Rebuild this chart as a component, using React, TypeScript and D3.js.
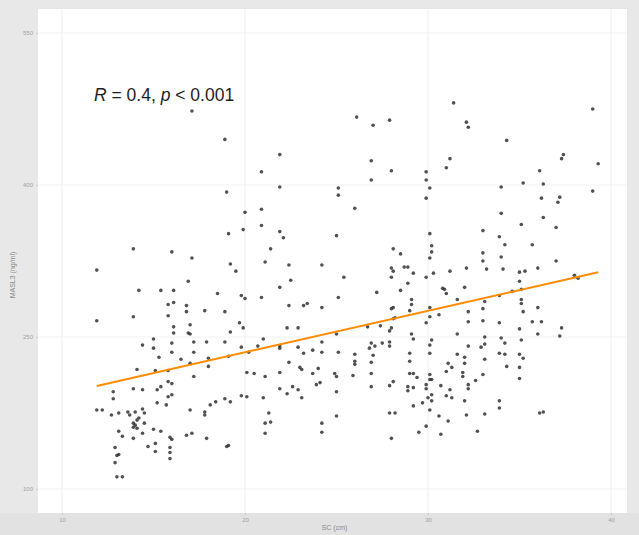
import React, { useRef, useEffect } from "react";
import * as d3 from "d3";

// tick values (labels are tiny in the source, best guess)
const xTicks = [10, 20, 30, 40];
const yTicks = [100, 250, 400, 550];

// SC (cm)
const scValues = [
  13.9, 16.0, 17.1, 11.9, 19.2, 19.5, 21.4, 21.1, 16.9, 14.2, 15.4, 16.1, 18.5, 19.8, 20.0, 20.9, 15.8, 16.1, 16.8, 16.8,
  17.8, 18.9, 11.9, 13.9, 15.8, 16.1, 16.1, 17.0, 19.7, 19.9, 16.9, 17.0, 19.2, 15.0, 14.4, 15.0, 16.0, 17.2, 17.9, 18.9,
  21.0, 16.0, 17.2, 15.3, 16.5, 18.0, 19.1, 19.8, 20.7, 21.9, 20.2, 17.0, 18.0, 14.1, 15.1, 15.8, 17.2, 20.1, 20.5, 21.1,
  15.8, 16.0, 13.9, 14.4, 12.8, 15.4, 15.2, 16.0, 15.8, 12.8, 15.2, 15.7, 18.1, 18.4, 18.9, 19.2, 19.8, 20.1, 21.0, 11.9,
  12.2, 12.7, 13.1, 13.6, 13.7, 14.0, 14.4, 14.5, 14.2, 14.1, 13.9, 14.0, 13.9, 14.1, 14.5, 17.0, 17.8, 17.8, 21.3, 21.1,
  21.4, 13.1, 13.3, 13.9, 14.4, 15.0, 15.4, 15.9, 16.0, 16.8, 17.1, 17.9, 21.1, 14.7, 15.1, 19.0, 19.1, 15.1, 15.9, 12.9,
  13.1, 13.0, 15.9, 15.9, 12.9, 13.0, 13.3, 17.1, 18.9, 21.9, 20.9, 19.0, 20.0, 20.9, 19.9, 19.1, 20.9, 31.4, 26.1, 27.0,
  27.9, 32.1, 32.2, 39.0, 34.3, 37.3, 39.3, 31.2, 31.0, 26.9, 28.0, 29.9, 29.9, 30.1, 29.9, 26.9, 25.1, 25.1, 36.1, 35.2,
  36.3, 34.0, 36.2, 37.1, 39.0, 26.0, 21.9, 34.0, 36.3, 35.1, 37.0, 33.0, 33.9, 34.2, 35.7, 30.1, 30.2, 30.2, 30.1, 25.0,
  28.1, 28.5, 33.0, 33.0, 33.2, 34.0, 34.1, 37.0, 36.0, 35.0, 35.3, 38.0, 38.2, 21.9, 22.1, 22.4, 24.2, 25.4, 22.5, 21.9,
  28.0, 28.1, 28.7, 28.9, 29.2, 28.0, 29.9, 30.3, 31.2, 32.1, 28.9, 27.2, 28.5, 30.8, 31.0, 30.9, 32.0, 31.6, 33.9, 34.6,
  35.0, 35.1, 25.1, 22.4, 23.2, 23.4, 24.2, 29.1, 29.1, 29.0, 28.0, 28.1, 28.2, 28.1, 30.1, 30.1, 30.6, 32.2, 33.0, 33.1,
  35.1, 35.1, 35.2, 36.0, 33.9, 33.0, 32.2, 29.9, 35.7, 36.2, 22.3, 22.9, 26.7, 27.4, 35.0, 21.9, 24.2, 25.0, 28.0, 27.9,
  31.6, 29.1, 29.2, 30.2, 30.1, 33.1, 34.0, 34.2, 35.1, 36.0, 37.2, 22.4, 22.9, 23.2, 23.7, 24.2, 25.1, 26.0, 26.0, 26.0,
  26.9, 26.8, 27.1, 27.9, 27.9, 27.0, 26.9, 27.5, 29.0, 29.0, 30.1, 31.6, 32.0, 32.0, 32.2, 32.9, 33.1, 33.1, 33.9, 34.2,
  35.0, 35.2, 34.3, 35.0, 31.1, 31.3, 31.0, 21.9, 23.0, 23.1, 23.7, 24.0, 21.9, 22.6, 22.9, 22.3, 23.1, 23.9, 24.1, 24.9,
  25.0, 25.0, 25.9, 26.9, 26.9, 27.9, 28.1, 29.0, 29.2, 29.4, 28.9, 28.9, 29.2, 30.1, 30.1, 30.2, 29.9, 29.9, 30.2, 30.0,
  30.2, 29.7, 29.2, 30.1, 30.7, 31.2, 31.0, 31.3, 31.9, 31.9, 32.2, 32.2, 32.6, 33.0, 32.0, 32.1, 33.9, 33.9, 33.1, 35.0,
  36.1, 27.9, 28.2, 25.0, 24.2, 24.2, 29.9, 29.5, 30.6, 31.1, 30.7, 32.7, 28.0, 37.4, 37.2, 37.3, 36.3,
];

// MASL3 (ng/ml)
const maslValues = [
  337, 334, 328, 316, 322, 315, 337, 324, 305, 296, 296, 296, 293, 291, 288, 289, 282, 284, 281, 275,
  276, 275, 266, 270, 271, 260, 254, 262, 264, 259, 254, 253, 255, 248, 242, 239, 244, 245, 245, 245,
  248, 235, 235, 230, 228, 229, 231, 240, 241, 239, 235, 224, 221, 218, 217, 217, 211, 215, 214, 211,
  206, 204, 199, 198, 196, 201, 198, 193, 191, 189, 185, 183, 183, 186, 189, 186, 192, 191, 190, 178,
  178, 173, 175, 176, 173, 176, 179, 175, 170, 168, 165, 163, 161, 160, 165, 178, 176, 173, 175, 165,
  166, 157, 152, 150, 155, 159, 157, 151, 149, 153, 155, 150, 155, 142, 145, 142, 143, 137, 141, 141,
  134, 133, 136, 130, 126, 112, 112, 473, 445, 430, 413, 393, 373, 376, 356, 352, 360, 481, 467, 459,
  464, 462, 457, 475, 444, 426, 421, 426, 417, 424, 414, 413, 405, 397, 387, 405, 397, 390, 414, 402,
  401, 398, 387, 383, 394, 377, 398, 372, 368, 361, 358, 355, 349, 341, 341, 352, 340, 334, 328, 350,
  337, 332, 333, 325, 317, 329, 317, 325, 318, 314, 315, 311, 308, 354, 348, 321, 321, 309, 306, 299,
  318, 315, 319, 319, 313, 309, 309, 313, 315, 318, 303, 294, 296, 298, 293, 297, 299, 287, 291, 295,
  305, 297, 289, 281, 281, 283, 279, 287, 282, 276, 278, 279, 269, 268, 279, 270, 272, 275, 278, 285,
  287, 283, 275, 279, 264, 266, 265, 264, 265, 265, 259, 259, 260, 261, 258, 241, 245, 253, 259, 256,
  253, 253, 248, 247, 242, 250, 249, 244, 247, 253, 251, 225, 240, 234, 237, 235, 235, 233, 226, 223,
  244, 239, 241, 245, 241, 232, 225, 244, 234, 226, 234, 233, 230, 224, 241, 240, 243, 228, 234, 233,
  233, 229, 221, 220, 224, 220, 216, 215, 220, 218, 214, 219, 199, 201, 198, 194, 190, 203, 205, 214,
  211, 196, 212, 214, 201, 202, 206, 214, 214, 210, 201, 197, 200, 213, 208, 208, 203, 199, 193, 190,
  187, 185, 182, 178, 202, 198, 192, 190, 215, 211, 203, 199, 207, 213, 187, 173, 187, 180, 174, 209,
  175, 175, 175, 172, 165, 156, 162, 156, 172, 167, 154, 157, 150, 430, 388, 259, 176,
];

const annotation = { r: "0.4", p: "0.001" };

const ScatterChart = () => {
  const chartRef = useRef(null);

  useEffect(() => {
    const W = 639;
    const H = 535;
    const panel = { left: 38, right: 627, top: 9, bottom: 513 };

    d3.select(chartRef.current).selectAll("svg").remove();

    const svg = d3
      .select(chartRef.current)
      .append("svg")
      .attr("width", W)
      .attr("height", H)
      .style("position", "absolute")
      .style("left", 0)
      .style("top", 0)
      .style("font-family", "Liberation Sans, Arial, sans-serif");

    const x = d3.scaleLinear().domain([10, 40]).range([62, 611]);
    const y = d3.scaleLinear().domain([100, 550]).range([489, 33]);

    const data = scValues.map((v, i) => ({ sc: v, masl: maslValues[i] }));

    // background + panel
    svg.append("rect").attr("width", W).attr("height", H).attr("fill", "#e8e8e8");
    svg.append("rect").attr("x", 0).attr("y", panel.bottom).attr("width", W).attr("height", H - panel.bottom).attr("fill", "#e2e2e2");
    svg
      .append("rect")
      .attr("x", panel.left)
      .attr("y", panel.top)
      .attr("width", panel.right - panel.left)
      .attr("height", panel.bottom - panel.top)
      .attr("fill", "#ffffff");

    // faint grid
    const grid = svg.append("g").attr("stroke", "#f1f1f1").attr("stroke-width", 1.2);
    xTicks.forEach((t) => {
      grid.append("line").attr("x1", x(t)).attr("x2", x(t)).attr("y1", panel.top).attr("y2", panel.bottom);
    });
    yTicks.forEach((t) => {
      grid.append("line").attr("x1", panel.left).attr("x2", panel.right).attr("y1", y(t)).attr("y2", y(t));
    });

    // axes (very faint, tiny)
    const xAxis = svg
      .append("g")
      .attr("transform", `translate(0, ${panel.bottom})`)
      .call(d3.axisBottom(x).tickValues(xTicks).tickSize(2).tickPadding(3).tickFormat(d3.format("d")));
    const yAxis = svg
      .append("g")
      .attr("transform", `translate(${panel.left}, 0)`)
      .call(d3.axisLeft(y).tickValues(yTicks).tickSize(2).tickPadding(3).tickFormat(d3.format("d")));
    [xAxis, yAxis].forEach((a) => {
      a.select(".domain").remove();
      a.selectAll(".tick line").attr("stroke", "#c8c8c8");
      a.selectAll(".tick text").attr("fill", "#a0a0a0").style("font-size", "6px").style("font-family", "Liberation Sans, Arial, sans-serif");
    });

    svg
      .append("text")
      .attr("x", (panel.left + panel.right) / 2 + 2)
      .attr("y", 530)
      .attr("text-anchor", "middle")
      .attr("fill", "#8a8a8a")
      .style("font-size", "7px")
      .text("SC (cm)");

    svg
      .append("text")
      .attr("transform", `translate(15, 275) rotate(-90)`)
      .attr("text-anchor", "middle")
      .attr("fill", "#8a8a8a")
      .style("font-size", "7px")
      .text("MASL3 (ng/ml)");

    // points
    svg
      .append("g")
      .selectAll("circle")
      .data(data)
      .enter()
      .append("circle")
      .attr("cx", (d) => x(d.sc))
      .attr("cy", (d) => y(d.masl))
      .attr("r", 1.8)
      .attr("fill", "#333333")
      .attr("fill-opacity", 0.85);

    // least squares fit
    const mx = d3.mean(data, (d) => d.sc);
    const my = d3.mean(data, (d) => d.masl);
    const sxy = d3.sum(data, (d) => (d.sc - mx) * (d.masl - my));
    const sxx = d3.sum(data, (d) => (d.sc - mx) ** 2);
    const slope = sxy / sxx;
    const icpt = my - slope * mx;
    const [x0, x1] = d3.extent(data, (d) => d.sc);
    svg
      .append("line")
      .attr("x1", x(x0))
      .attr("y1", y(icpt + slope * x0))
      .attr("x2", x(x1))
      .attr("y2", y(icpt + slope * x1))
      .attr("stroke", "#ff8c00")
      .attr("stroke-width", 2);

    // R / p label
    const label = svg
      .append("text")
      .attr("x", 94)
      .attr("y", 101)
      .attr("fill", "#1e1e1e")
      .style("font-size", "17.5px");
    label.append("tspan").style("font-style", "italic").text("R");
    label.append("tspan").text(` = ${annotation.r}, `);
    label.append("tspan").style("font-style", "italic").text("p");
    label.append("tspan").text(` < ${annotation.p}`);
  }, []);

  return <div ref={chartRef}></div>;
};

export default function App() {
  return <ScatterChart />;
}
